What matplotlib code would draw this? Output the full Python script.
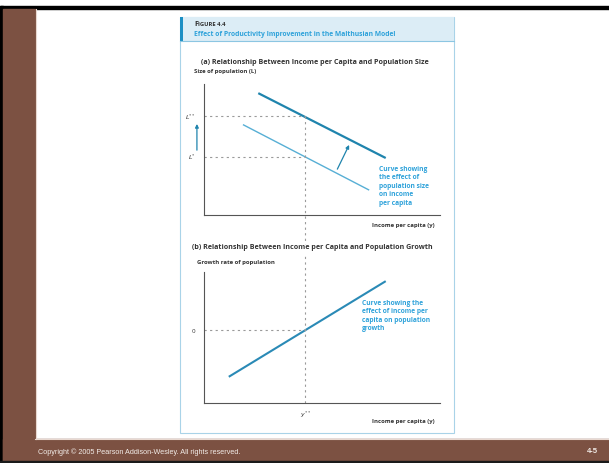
#!/usr/bin/env python3
"""Figure 4.4 slide: effect of productivity improvement in the Malthusian model."""

import matplotlib
matplotlib.use("Agg")
import matplotlib.pyplot as plt
from matplotlib.patches import Rectangle

W, H = 609, 464

# ---- data (schematic units, 0..10 on both axes) ----
y_star = 4.3
size_new_x = [2.3, 7.7]
size_new_y = [9.3, 4.35]
size_old_x = [1.65, 7.0]
size_old_y = [6.9, 1.9]
L_levels = [4.45, 7.55]
L_labels = ["$L^{*}$", "$L^{**}$"]
shift_tail = (5.65, 3.5)
shift_head = (6.15, 5.35)

growth_x = [1.05, 7.7]
growth_y = [2.0, 9.3]
zero_growth = 5.55

BROWN = "#7c5142"
DARK_BLUE = "#1f84ad"
LIGHT_BLUE = "#57afd5"
MID_BLUE = "#2a8ab6"
TEXT_BLUE = "#2ea2da"
GRID = "#9a9a9a"
DARK = "#333333"
FONT = "Open Sans"


def px_axes(fig, left, top, right, bottom):
    return fig.add_axes([left / W, 1 - bottom / H, (right - left) / W, (bottom - top) / H])


def style_axes(ax):
    ax.set_xlim(0, 10)
    ax.set_ylim(0, 10)
    for side in ("top", "right"):
        ax.spines[side].set_visible(False)
    for side in ("left", "bottom"):
        ax.spines[side].set_color("#555555")
        ax.spines[side].set_linewidth(0.8)
    ax.set_xticks([])
    ax.set_yticks([])
    ax.patch.set_alpha(0)


fig = plt.figure(figsize=(W / 100, H / 100), dpi=100)

# ---- slide frame (pixel coordinates) ----
bg = fig.add_axes([0, 0, 1, 1])
bg.set_xlim(0, W)
bg.set_ylim(H, 0)
bg.axis("off")
bg.add_patch(Rectangle((0, 7), W, 3, color="black"))
bg.add_patch(Rectangle((0, 7), 3, H - 7, color="black"))
bg.add_patch(Rectangle((3, 10), 32, H - 10, color=BROWN))
bg.add_patch(Rectangle((3, 440), W, 22, color=BROWN))
bg.add_patch(Rectangle((0, 462), W, 2, color="#1a1a1a"))
bg.plot([35.5, 35.5], [10, 440], color="#e8d8d0", lw=0.8)
bg.plot([35, W], [440, 440], color="#e8d8d0", lw=0.8)
bg.text(38, 452, "Copyright \u00a9 2005 Pearson Addison-Wesley. All rights reserved.",
        color="#f2ece8", fontsize=5.2, family="Liberation Sans", va="center")
bg.text(598, 452, "4-5", color="#f2ece8", fontsize=5.5, family="Liberation Sans",
        fontweight="bold", va="center", ha="right")

# figure panel
bg.add_patch(Rectangle((180, 18), 274, 416, fill=False, ec="#a9d3e8", lw=0.8))
bg.add_patch(Rectangle((180, 18), 274, 24, color="#dcedf6", lw=0))
bg.add_patch(Rectangle((180, 18), 3, 24, color="#1c8fc4", lw=0))
bg.plot([180, 454], [42, 42], color="#8cc6e2", lw=0.8)
bg.text(194, 24.5, "F", fontsize=5.2, family=FONT, fontweight="bold", color=DARK, va="center")
bg.text(198.5, 25, "IGURE 4.4", fontsize=4.2, family=FONT, fontweight="bold", color=DARK, va="center")
bg.text(194, 34, "Effect of Productivity Improvement in the Malthusian Model",
        fontsize=4.9, family=FONT, fontweight="bold", color=TEXT_BLUE, va="center")

bg.text(201, 63, "(a) Relationship Between Income per Capita and Population Size",
        fontsize=5.1, family=FONT, fontweight="bold", color=DARK, va="center")
bg.text(194, 71.5, "Size of population (L)", fontsize=4.3, family=FONT,
        fontweight="bold", color=DARK, va="center")
bg.text(372, 226, "Income per capita (y)", fontsize=4.3, family=FONT,
        fontweight="bold", color=DARK, va="center")

bg.text(192, 248, "(b) Relationship Between Income per Capita and Population Growth",
        fontsize=5.1, family=FONT, fontweight="bold", color=DARK, va="center")
bg.text(197, 263, "Growth rate of population", fontsize=4.3, family=FONT,
        fontweight="bold", color=DARK, va="center")
bg.text(372, 422, "Income per capita (y)", fontsize=4.3, family=FONT,
        fontweight="bold", color=DARK, va="center")

# ---- panel (a) ----
ax = px_axes(fig, 204, 85, 440, 216)
style_axes(ax)
ax.plot(size_new_x, size_new_y, color=DARK_BLUE, lw=1.6, solid_capstyle="butt")
ax.plot(size_old_x, size_old_y, color=LIGHT_BLUE, lw=1.0, solid_capstyle="butt")
for lv, lab in zip(L_levels, L_labels):
    ax.plot([0, y_star], [lv, lv], color=GRID, lw=0.8, ls=(0, (2, 3)))
    ax.text(-0.35, lv, lab, fontsize=4.5, color=DARK, ha="right", va="center")
ax.plot([y_star, y_star], [L_levels[1], -2.2], color=GRID, lw=0.8, ls=(0, (2, 3)), clip_on=False)
ax.annotate("", xy=(-0.3, L_levels[1] - 0.6), xytext=(-0.3, L_levels[0] + 0.5),
            arrowprops=dict(arrowstyle="-|>", color=DARK_BLUE, lw=0.9, mutation_scale=5,
                            shrinkA=0, shrinkB=0), annotation_clip=False)
ax.annotate("", xy=shift_head, xytext=shift_tail,
            arrowprops=dict(arrowstyle="-|>", color=DARK_BLUE, lw=0.9, mutation_scale=5,
                            shrinkA=0, shrinkB=0))
ax.text(7.4, 3.85, "Curve showing\nthe effect of\npopulation size\non income\nper capita",
        fontsize=4.8, family=FONT, fontweight="bold", color=TEXT_BLUE,
        va="top", linespacing=1.3)

# ---- panel (b) ----
bx = px_axes(fig, 204, 273, 440, 404)
style_axes(bx)
bx.plot(growth_x, growth_y, color=MID_BLUE, lw=1.5, solid_capstyle="butt")
bx.plot([0, y_star], [zero_growth, zero_growth], color=GRID, lw=0.8, ls=(0, (2, 3)))
bx.plot([y_star, y_star], [0, 11.2], color=GRID, lw=0.8, ls=(0, (2, 3)), clip_on=False)
bx.text(-0.35, zero_growth, "0", fontsize=4.5, family=FONT, color=DARK, ha="right", va="center")
bx.text(y_star, -0.45, "$y^{**}$", fontsize=4.5, color=DARK, ha="center", va="top")
bx.text(6.7, 7.95, "Curve showing the\neffect of income per\ncapita on population\ngrowth",
        fontsize=4.8, family=FONT, fontweight="bold", color=TEXT_BLUE,
        va="top", linespacing=1.3)

fig.savefig("out.png", dpi=100)
plt.close(fig)
